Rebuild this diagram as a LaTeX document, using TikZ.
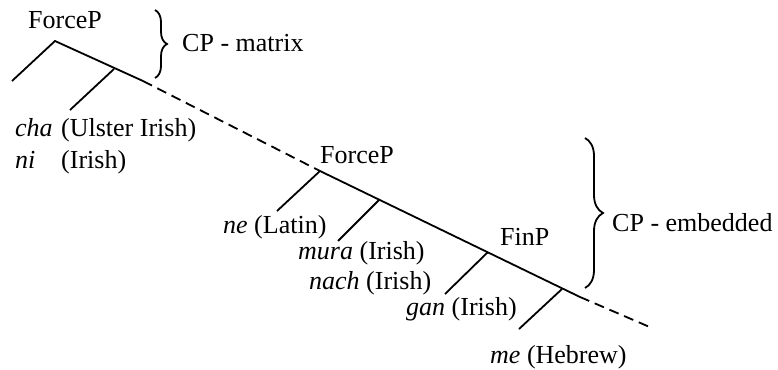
\documentclass[tikz,border=0pt]{standalone}
\usepackage{fontspec}
\setmainfont{Liberation Serif}
\usetikzlibrary{decorations.pathreplacing}
\begin{document}
\begin{tikzpicture}[x=1pt,y=-1pt,
  font=\fontsize{26}{31}\selectfont,
  branch/.style={line width=1.8pt},
  dashline/.style={line width=1.8pt, dash pattern=on 10pt off 6pt},
  lbl/.style={anchor=base west, inner sep=0pt},
  brc/.style={decorate, decoration={brace, amplitude=#1}, line width=1.8pt}]
\useasboundingbox (0,0) rectangle (778,369);
% tree points
\coordinate (a1) at (55,41);
\coordinate (l1) at (12,81);
\coordinate (b1) at (114,69);
\coordinate (c1) at (70,110);
\coordinate (e1) at (143,81);
\coordinate (a2) at (320,171);
\coordinate (c2) at (277,211);
\coordinate (b2) at (379,200);
\coordinate (c3) at (338,241);
\coordinate (f1) at (488,252);
\coordinate (c4) at (445,294);
\coordinate (b3) at (562,289);
\coordinate (c5) at (519,329);
\coordinate (e2) at (580,297);
\coordinate (e3) at (652,328);
% labels
\node[lbl] (fp1) at (28,29) {ForceP};
\node[lbl] (cpm) at (182,52) {CP - matrix};
\node[lbl] (cha) at (15,136) {\makebox[46pt][l]{\textit{cha}}(Ulster Irish)};
\node[lbl] (ni) at (15,168) {\makebox[46pt][l]{\textit{ni}}(Irish)};
\node[lbl] (fp2) at (320,163) {ForceP};
\node[lbl] (ne) at (223,233) {\textit{ne} (Latin)};
\node[lbl] (mura) at (298,259) {\textit{mura} (Irish)};
\node[lbl] (nach) at (309,289) {\textit{nach} (Irish)};
\node[lbl] (finp) at (500,245) {FinP};
\node[lbl] (gan) at (406,315) {\textit{gan} (Irish)};
\node[lbl] (me) at (490,363) {\textit{me} (Hebrew)};
\node[lbl] (cpe) at (612,231) {CP - embedded};
% branches
\draw[branch] (l1) -- (a1) -- (e1);
\draw[branch] (b1) -- (c1);
\draw[dashline] (e1) -- (a2);
\draw[branch] (a2) -- (c2);
\draw[branch] (a2) -- (e2);
\draw[branch] (b2) -- (c3);
\draw[branch] (f1) -- (c4);
\draw[branch] (b3) -- (c5);
\draw[dashline] (e2) -- (e3);
% braces
\draw[brc=12pt] (155,10) -- (155,78);
\draw[brc=18pt] (585,138) -- (585,288);
\end{tikzpicture}
\end{document}
